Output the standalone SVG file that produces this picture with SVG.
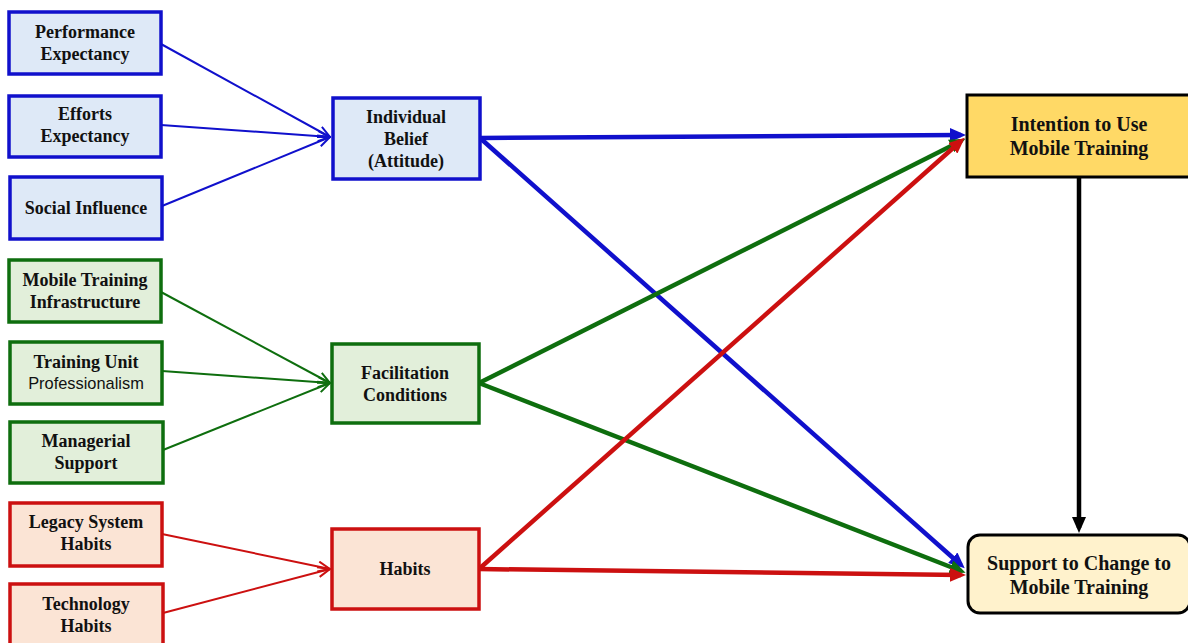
<svg xmlns="http://www.w3.org/2000/svg" width="1188" height="643" viewBox="0 0 1188 643">
<defs>
<style>
.t{font-family:"Liberation Serif","Times New Roman",serif;font-weight:bold;font-size:18px;fill:#111;text-anchor:middle}
.tb{font-size:20px}
.s{font-family:"Liberation Sans",Arial,sans-serif;font-weight:normal;font-size:16.4px;fill:#111;text-anchor:middle}
.bl rect{fill:#DEE9F7;stroke:#1010CC;stroke-width:3.5}
.gr rect{fill:#E2EFDA;stroke:#0E6E0E;stroke-width:3.5}
.rd rect{fill:#FBE4D5;stroke:#CC1010;stroke-width:3.5}
.thin{fill:none;stroke-width:2}
.thick{fill:none;stroke-width:4.5}
</style>
<marker id="ob" viewBox="0 0 14 12" refX="13" refY="6" markerWidth="14" markerHeight="12" markerUnits="userSpaceOnUse" orient="auto"><path d="M1,1 L13,6 L1,11" fill="none" stroke="#1010CC" stroke-width="2"/></marker>
<marker id="og" viewBox="0 0 14 12" refX="13" refY="6" markerWidth="14" markerHeight="12" markerUnits="userSpaceOnUse" orient="auto"><path d="M1,1 L13,6 L1,11" fill="none" stroke="#0E6E0E" stroke-width="2"/></marker>
<marker id="or" viewBox="0 0 14 12" refX="13" refY="6" markerWidth="14" markerHeight="12" markerUnits="userSpaceOnUse" orient="auto"><path d="M1,1 L13,6 L1,11" fill="none" stroke="#CC1010" stroke-width="2"/></marker>
<marker id="fb" viewBox="0 0 16 14" refX="11" refY="7" markerWidth="16" markerHeight="14" markerUnits="userSpaceOnUse" orient="auto"><path d="M0,0 L16,7 L0,14 z" fill="#1010CC"/></marker>
<marker id="fg" viewBox="0 0 16 14" refX="11" refY="7" markerWidth="16" markerHeight="14" markerUnits="userSpaceOnUse" orient="auto"><path d="M0,0 L16,7 L0,14 z" fill="#0E6E0E"/></marker>
<marker id="fr" viewBox="0 0 16 14" refX="11" refY="7" markerWidth="16" markerHeight="14" markerUnits="userSpaceOnUse" orient="auto"><path d="M0,0 L16,7 L0,14 z" fill="#CC1010"/></marker>
<marker id="fk" viewBox="0 0 16 14" refX="11" refY="7" markerWidth="16" markerHeight="14" markerUnits="userSpaceOnUse" orient="auto"><path d="M0,0 L16,7 L0,14 z" fill="#000"/></marker>
</defs>
<rect width="1188" height="643" fill="#fff"/>
<g id="connectors">
<line class="thin" stroke="#1010CC" x1="161" y1="44" x2="330" y2="137" marker-end="url(#ob)"/>
<line class="thin" stroke="#1010CC" x1="161" y1="125" x2="330" y2="137" marker-end="url(#ob)"/>
<line class="thin" stroke="#1010CC" x1="162" y1="206" x2="330" y2="137" marker-end="url(#ob)"/>
<line class="thin" stroke="#0E6E0E" x1="161" y1="292" x2="330" y2="383" marker-end="url(#og)"/>
<line class="thin" stroke="#0E6E0E" x1="162" y1="371" x2="330" y2="383" marker-end="url(#og)"/>
<line class="thin" stroke="#0E6E0E" x1="163" y1="450" x2="330" y2="383" marker-end="url(#og)"/>
<line class="thin" stroke="#CC1010" x1="162" y1="534" x2="330" y2="569" marker-end="url(#or)"/>
<line class="thin" stroke="#CC1010" x1="163" y1="613" x2="330" y2="569" marker-end="url(#or)"/>
<line class="thick" stroke="#1010CC" x1="480" y1="138" x2="961" y2="135" marker-end="url(#fb)"/>
<line class="thick" stroke="#1010CC" x1="480" y1="138" x2="961" y2="565" marker-end="url(#fb)"/>
<line class="thick" stroke="#0E6E0E" x1="479" y1="383" x2="961" y2="141" marker-end="url(#fg)"/>
<line class="thick" stroke="#0E6E0E" x1="479" y1="383" x2="961" y2="571" marker-end="url(#fg)"/>
<line class="thick" stroke="#CC1010" x1="479" y1="569" x2="961" y2="141" marker-end="url(#fr)"/>
<line class="thick" stroke="#CC1010" x1="479" y1="569" x2="961" y2="575" marker-end="url(#fr)"/>
<line class="thick" stroke="#000" x1="1079" y1="177" x2="1079" y2="528" marker-end="url(#fk)"/>
</g>
<g id="performance-expectancy" class="bl"><rect x="9" y="12" width="152" height="62"/><text class="t" x="85" y="38">Performance</text><text class="t" x="85" y="60">Expectancy</text></g>
<g id="efforts-expectancy" class="bl"><rect x="9" y="96" width="152" height="61"/><text class="t" x="85" y="120">Efforts</text><text class="t" x="85" y="142">Expectancy</text></g>
<g id="social-influence" class="bl"><rect x="10" y="177" width="152" height="62"/><text class="t" x="86" y="214">Social Influence</text></g>
<g id="individual-belief" class="bl"><rect x="333" y="98" width="147" height="81"/><text class="t" x="406" y="123">Individual</text><text class="t" x="406" y="145">Belief</text><text class="t" x="406" y="167">(Attitude)</text></g>
<g id="mobile-training-infrastructure" class="gr"><rect x="9" y="260" width="152" height="62"/><text class="t" x="85" y="286">Mobile Training</text><text class="t" x="85" y="308">Infrastructure</text></g>
<g id="training-unit-professionalism" class="gr"><rect x="10" y="342" width="152" height="62"/><text class="t" x="86" y="368">Training Unit</text><text class="s" x="86" y="389">Professionalism</text></g>
<g id="managerial-support" class="gr"><rect x="10" y="422" width="153" height="61"/><text class="t" x="86" y="447">Managerial</text><text class="t" x="86" y="469">Support</text></g>
<g id="facilitation-conditions" class="gr"><rect x="332" y="344" width="147" height="79"/><text class="t" x="405" y="379">Facilitation</text><text class="t" x="405" y="401">Conditions</text></g>
<g id="legacy-system-habits" class="rd"><rect x="10" y="503" width="152" height="63"/><text class="t" x="86" y="528">Legacy System</text><text class="t" x="86" y="550">Habits</text></g>
<g id="technology-habits" class="rd"><rect x="10" y="584" width="153" height="70"/><text class="t" x="86" y="610">Technology</text><text class="t" x="86" y="632">Habits</text></g>
<g id="habits" class="rd"><rect x="332" y="529" width="147" height="80"/><text class="t" x="405" y="575">Habits</text></g>
<g id="intention-to-use"><rect x="967" y="95" width="223" height="82" fill="#FFD966" stroke="#000" stroke-width="3"/><text class="t tb" x="1079" y="131">Intention to Use</text><text class="t tb" x="1079" y="155">Mobile Training</text></g>
<g id="support-to-change"><rect x="968" y="535" width="222" height="78" rx="12" ry="12" fill="#FFF2CC" stroke="#000" stroke-width="3"/><text class="t tb" x="1079" y="570">Support to Change to</text><text class="t tb" x="1079" y="594">Mobile Training</text></g>
</svg>
